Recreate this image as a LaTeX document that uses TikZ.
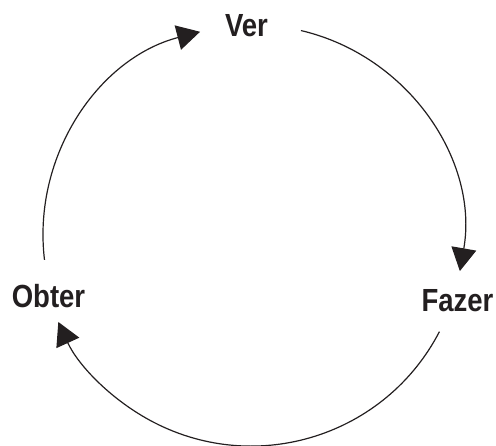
\documentclass[tikz,border=0pt]{standalone}
\usepackage{fontspec}
\setmainfont{Liberation Sans}[FakeStretch=0.86]
\usetikzlibrary{arrows.meta}
\definecolor{ink}{HTML}{231F20}
\tikzset{
  lbl/.style={font=\bfseries\fontsize{32}{36}\selectfont, text=ink, inner sep=0pt, anchor=base},
  cyc/.style={draw=ink, line width=1.2pt, -{Triangle[length=23pt,width=25pt]}}
}
\begin{document}
\begin{tikzpicture}[x=1pt,y=1pt]
  \useasboundingbox (0,0) rectangle (496,446);
  % centre of the cycle
  \coordinate (o) at (253,211);
  % labels
  \node[lbl] (ver) at (246.5,409) {Ver};
  \node[lbl] (fazer) at (457.5,134) {Fazer};
  \node[lbl] (obter) at (48.5,138) {Obter};
  % arc ends on the circle
  \coordinate (a1) at ([shift={(76.8:210)}]o);
  \coordinate (a2) at ([shift={(-27.4:210)}]o);
  \coordinate (a3) at ([shift={(186.8:210)}]o);
  % the three arrows of the cycle
  \draw[cyc] (a1) arc[start angle=76.8, end angle=-9.9, radius=210];
  \draw[cyc] (a2) arc[start angle=-27.4, end angle=-155.5, radius=212];
  \draw[cyc] (a3) arc[start angle=186.8, end angle=104.6, radius=210];
\end{tikzpicture}
\end{document}
